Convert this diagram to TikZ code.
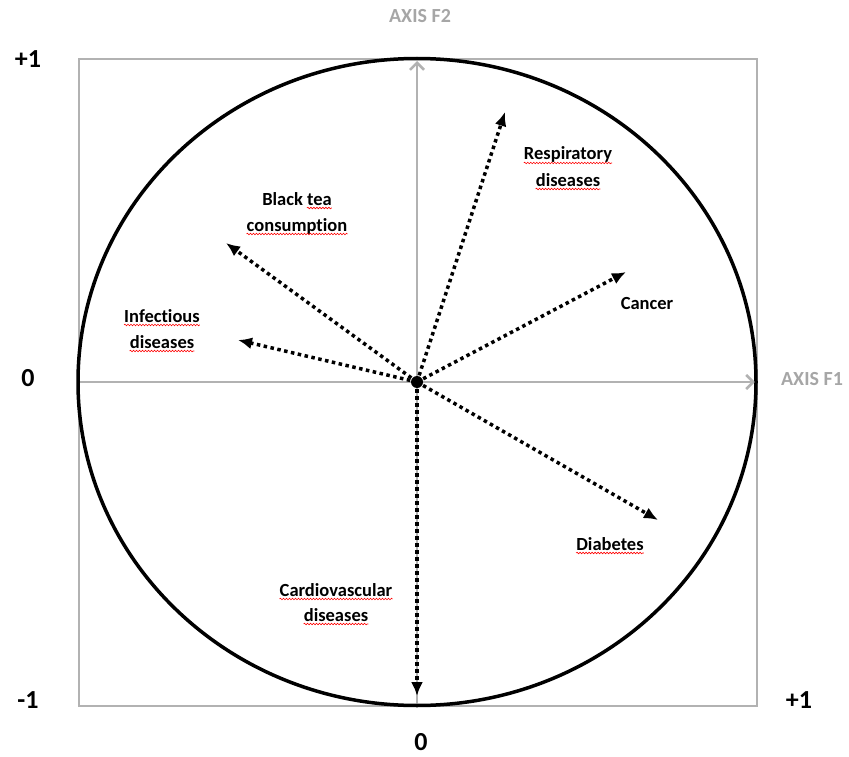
\documentclass[tikz,border=0pt]{standalone}
\usepackage{fontspec}
\setmainfont{Carlito}[Ligatures={NoCommon}]
\usetikzlibrary{arrows.meta,decorations.pathmorphing}
\begin{document}
\begin{tikzpicture}[x=1pt,y=-1pt,
  lbl/.style={font=\fontsize{18.5}{26}\selectfont\bfseries, inner sep=0pt, anchor=base},
  big/.style={font=\fontsize{26}{28}\selectfont\bfseries, inner sep=0pt},
  axlbl/.style={font=\fontsize{20}{24}\selectfont\bfseries, text=black!35, inner sep=0pt},
  vec/.style={line width=3.5pt, dash pattern=on 3.5pt off 3.5pt, -{Latex[length=14pt,width=12pt]}},
  axisline/.style={draw=black!30, line width=2.5pt},
  squig/.style={draw=red, line width=0.6pt, decorate, decoration={snake,amplitude=0.8pt,segment length=3pt}}
]
\useasboundingbox (0,0) rectangle (849,757);
% frame
\coordinate (o) at (417,382);
\coordinate (L) at (79,382);
\coordinate (R) at (757,382);
\coordinate (T) at (417,59);
\coordinate (B) at (417,706);
\draw[axisline] (79,59) rectangle (757,706);
\draw[axisline, -{Straight Barb[length=7pt,width=14pt]}] (L) -- ([xshift=-2pt]R);
\draw[axisline, -{Straight Barb[length=7pt,width=14pt]}] (B) -- ([yshift=-2pt]T);
% circle
\draw[line width=3.5pt] (o) ellipse [x radius=339pt, y radius=323.5pt];
% vectors
\coordinate (eResp) at (505,112);
\coordinate (eTea) at (226,243);
\coordinate (eInf) at (238,340);
\coordinate (eCan) at (626,272);
\coordinate (eDia) at (658,520);
\coordinate (eCar) at (417,696);
\foreach \e in {eResp,eTea,eInf,eCan,eDia,eCar}
  \draw[vec] (o) -- (\e);
\fill (o) circle (6pt);
% labels
\node[lbl] (resp1) at (568,160) {Respiratory};
\node[lbl] (resp2) at (568,186) {diseases};
\node[lbl] (bt1) at (297,205) {Black tea};
\node[lbl, anchor=base east] (bt1t) at (bt1.base east) {\phantom{tea}};
\node[lbl] (bt2) at (297,231) {consumption};
\node[lbl] (inf1) at (162,322) {Infectious};
\node[lbl] (inf2) at (162,348) {diseases};
\node[lbl] (can) at (647,309) {Cancer};
\node[lbl] (dia) at (610,550) {Diabetes};
\node[lbl] (car1) at (336,596) {Cardiovascular};
\node[lbl] (car2) at (336,621) {diseases};
\foreach \n in {resp1,resp2,bt1t,bt2,inf1,inf2,dia,car1,car2}
  \draw[squig] ([yshift=-3pt]\n.base west) -- ([yshift=-3pt]\n.base east);
% axis values
\node[big] (p1l) at (28,59) {+1};
\node[big] (z0l) at (28,378) {0};
\node[big] (m1l) at (28,700) {-1};
\node[big] (p1r) at (799,700) {+1};
\node[big] (z0b) at (421,742) {0};
\node[axlbl] (f2) at (420,16) {AXIS F2};
\node[axlbl] (f1) at (812,379) {AXIS F1};
\end{tikzpicture}
\end{document}
